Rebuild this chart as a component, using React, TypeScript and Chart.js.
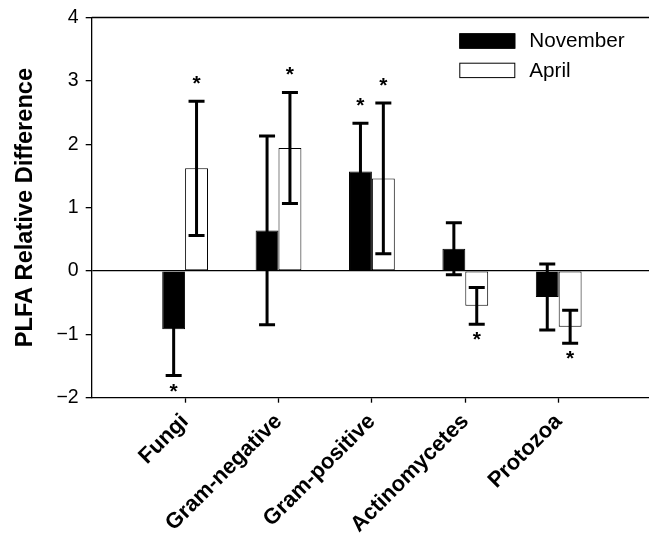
import React, { useEffect, useRef } from 'react';
import { Chart, registerables } from 'chart.js';

Chart.register(...registerables);

// ---- data ----
const categories = ['', 'Fungi', 'Gram-negative', 'Gram-positive', 'Actinomycetes', 'Protozoa', ''];
const novemberValues = [null, -0.92, 0.64, 1.57, 0.35, -0.41, null];
const novemberErrors = [null, 0.73, 1.49, 0.76, 0.41, 0.52, null];
const novemberSignificant = [false, true, false, true, false, false, false];
const aprilValues = [null, 1.62, 1.94, 1.46, -0.55, -0.88, null];
const aprilErrors = [null, 1.06, 0.875, 1.19, 0.29, 0.26, null];
const aprilSignificant = [false, true, true, true, true, true, false];
const yMin = -2;
const yMax = 4;
const yStep = 1;
const yTitle = 'PLFA Relative Difference';

const FONT = "'Liberation Sans', Arial, Helvetica, sans-serif";

const errorBarPlugin = {
  id: 'errorBars',
  afterDatasetsDraw(chart: any) {
    const ctx = chart.ctx;
    const ys = chart.scales.y;
    const capHalf = 8;
    ctx.save();
    ctx.strokeStyle = '#000';
    ctx.fillStyle = '#000';
    ctx.lineWidth = 3;
    ctx.lineCap = 'butt';
    chart.data.datasets.forEach((ds: any, di: number) => {
      const meta = chart.getDatasetMeta(di);
      meta.data.forEach((bar: any, i: number) => {
        const v = ds.data[i];
        if (v == null) return;
        const e = ds.errors[i];
        const x = bar.x;
        const yTop = ys.getPixelForValue(v + e);
        const yBot = ys.getPixelForValue(v - e);
        ctx.beginPath();
        ctx.moveTo(x, yTop);
        ctx.lineTo(x, yBot);
        ctx.moveTo(x - capHalf, yTop);
        ctx.lineTo(x + capHalf, yTop);
        ctx.moveTo(x - capHalf, yBot);
        ctx.lineTo(x + capHalf, yBot);
        ctx.stroke();
        if (ds.significant[i]) {
          ctx.font = `bold 21px ${FONT}`;
          ctx.textAlign = 'center';
          ctx.textBaseline = 'alphabetic';
          const m = ctx.measureText('*');
          const asc = m.actualBoundingBoxAscent;
          const desc = m.actualBoundingBoxDescent;
          const target = v >= 0 ? yTop - 21.5 : yBot + 12;
          const baseline = target - (desc - asc) / 2;
          ctx.fillText('*', x, baseline);
        }
      });
    });
    ctx.restore();
  },
  afterDraw(chart: any) {
    const ctx = chart.ctx;
    const area = chart.chartArea;
    ctx.save();
    // top frame line
    ctx.strokeStyle = '#000';
    ctx.lineWidth = 1.3;
    ctx.beginPath();
    ctx.moveTo(area.left, area.top);
    ctx.lineTo(area.right, area.top);
    ctx.stroke();
    // legend
    const boxX = 451.3;
    const boxW = 56;
    const boxH = 15.4;
    const rowY = [25.3, 54.7];
    ctx.font = `20.7px ${FONT}`;
    ctx.textAlign = 'left';
    ctx.textBaseline = 'middle';
    chart.data.datasets.forEach((ds: any, di: number) => {
      const y0 = rowY[di];
      ctx.fillStyle = ds.backgroundColor;
      ctx.fillRect(boxX, y0, boxW, boxH);
      ctx.lineWidth = 1;
      ctx.strokeStyle = ds.borderColor;
      ctx.strokeRect(boxX + 0.5, y0 + 0.5, boxW - 1, boxH - 1);
      ctx.fillStyle = '#000';
      ctx.fillText(ds.label, 521.3, y0 + boxH / 2 + 0.5);
    });
    ctx.restore();
  },
};

export default function App() {
  const ref = useRef<HTMLCanvasElement>(null);
  useEffect(() => {
    const chart = new Chart(ref.current as HTMLCanvasElement, {
      type: 'bar',
      data: {
        labels: categories,
        datasets: [
          {
            label: 'November',
            data: novemberValues,
            backgroundColor: '#000',
            borderColor: '#000',
            borderWidth: 1,
            categoryPercentage: 0.49,
            barPercentage: 1,
            errors: novemberErrors,
            significant: novemberSignificant,
          } as any,
          {
            label: 'April',
            data: aprilValues,
            backgroundColor: '#fff',
            borderColor: '#000',
            borderWidth: 1,
            borderSkipped: false,
            categoryPercentage: 0.49,
            barPercentage: 1,
            errors: aprilErrors,
            significant: aprilSignificant,
          } as any,
        ],
      },
      options: {
        responsive: false,
        animation: false,
        layout: { padding: { left: 0, top: 9.5, right: 15.9, bottom: 0 } },
        plugins: { legend: { display: false }, tooltip: { enabled: false } },
        scales: {
          x: {
            type: 'category',
            offset: false,
            grid: {
              display: true,
              offset: false,
              drawOnChartArea: false,
              drawTicks: true,
              tickLength: 5,
              tickWidth: 1.3,
              tickColor: (c: any) => (categories[c.index] ? '#000' : 'rgba(0,0,0,0)'),
            },
            border: { display: true, color: '#000', width: 1.3 },
            ticks: {
              autoSkip: false,
              maxRotation: 45,
              minRotation: 45,
              color: '#000',
              padding: 6,
              font: { family: FONT, size: 22, weight: 'bold' },
            },
            afterFit: (s: any) => {
              s.height = 135.3;
              s.paddingLeft = 0;
              s.paddingRight = 0;
            },
          },
          y: {
            type: 'linear',
            min: yMin,
            max: yMax,
            z: 1,
            grid: {
              display: true,
              drawOnChartArea: true,
              drawTicks: true,
              tickLength: 6,
              tickWidth: 1.3,
              tickColor: '#000',
              lineWidth: 1.3,
              color: (c: any) => (c.tick && c.tick.value === 0 ? '#000' : 'rgba(0,0,0,0)'),
            },
            border: { display: true, color: '#000', width: 1.3 },
            ticks: {
              stepSize: yStep,
              color: '#000',
              padding: 7,
              font: { family: FONT, size: 19.5 },
              callback: (v: any) => (v < 0 ? '\u2212' + Math.abs(v) : String(v)),
            },
            title: {
              display: true,
              text: yTitle,
              color: '#000',
              font: { family: FONT, size: 23.6, weight: 'bold' },
              padding: { top: 3, bottom: 0 },
            },
            afterFit: (s: any) => {
              s.width = 83.7;
              s.paddingTop = 0;
              s.paddingBottom = 0;
            },
          },
        },
      },
      plugins: [errorBarPlugin],
    } as any);
    return () => chart.destroy();
  }, []);
  return (
    <div
      style={{
        position: 'fixed',
        left: 8,
        top: 8,
        width: 641,
        height: 525,
        overflow: 'hidden',
        background: '#fff',
      }}
    >
      <canvas ref={ref} width={660} height={525} style={{ display: 'block', width: 660, height: 525 }} />
    </div>
  );
}
